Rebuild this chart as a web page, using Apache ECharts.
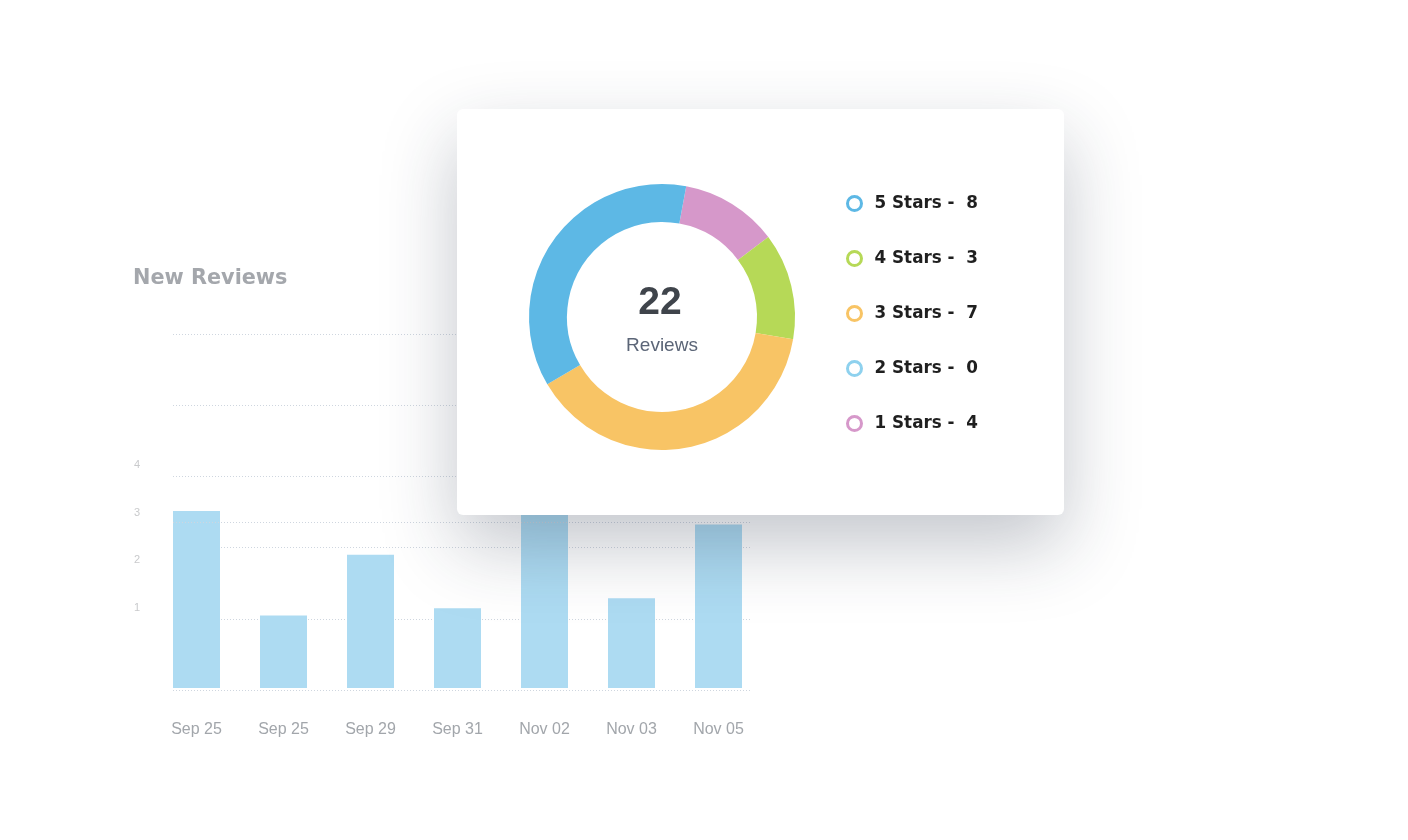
<!DOCTYPE html>
<html>
<head>
<meta charset="utf-8">
<title>New Reviews</title>
<script src="https://cdn.jsdelivr.net/npm/echarts@6/dist/echarts.min.js"></script>
<style>
  html, body { margin: 0; background: #fff; }
  #chart { width: 1408px; height: 840px; }
</style>
</head>
<body>
<div id="chart"></div>
<script>
// bar chart behind the card
const days = ['Sep 25', 'Sep 25', 'Sep 29', 'Sep 31', 'Nov 02', 'Nov 03', 'Nov 05'];
const newReviews = [3, 1.23, 2.26, 1.35, 3.4, 1.52, 2.77];
const yTickLabels = [1, 2, 3, 4];

// card: star breakdown
const starNames = ['5 Stars', '4 Stars', '3 Stars', '2 Stars', '1 Stars'];
const starCounts = [8, 3, 7, 0, 4];
// ring arcs as drawn, clockwise from the top
const ringNames = ['1 Stars', '4 Stars', '3 Stars', '2 Stars', '5 Stars'];
const ringShares = [2.6, 2.85, 8.55, 0, 8];

const starColors = {
  '5 Stars': '#5db8e5',
  '4 Stars': '#b6d957',
  '3 Stars': '#f8c465',
  '2 Stars': '#8ed1ee',
  '1 Stars': '#d698ca'
};

const total = starCounts.reduce((a, b) => a + b, 0);

const chart = echarts.init(document.getElementById('chart'));

chart.setOption({
  animation: false,
  title: {
    text: 'New Reviews',
    left: 133,
    top: 268,
    padding: 0,
    textStyle: { fontFamily: 'DejaVu Sans', fontWeight: 'bold', fontSize: 20.8, color: '#a4a7ac' }
  },
  legend: {
    data: starNames.map(n => ({
      name: n,
      itemStyle: { color: '#fff', borderColor: starColors[n], borderWidth: 3 }
    })),
    orient: 'vertical',
    left: 841,
    top: 190,
    itemWidth: 30,
    itemHeight: 14,
    itemGap: 38,
    icon: 'circle',
    selectedMode: false,
    z: 20,
    textStyle: { fontFamily: 'DejaVu Sans', fontWeight: 'bold', fontSize: 16.8, color: '#1f1f1f' },
    formatter: name => name + ' -  ' + starCounts[starNames.indexOf(name)]
  },
  grid: [
    { left: 153, right: 646, top: 334, bottom: 152 },   // bars
    { left: 173, right: 658, top: 334, bottom: 150 },   // dotted guide lines
    { left: 150, right: 1200, top: 417.5, bottom: 184.5 } // small y labels
  ],
  xAxis: [
    {
      gridIndex: 0, type: 'category', data: days,
      axisLine: { show: false }, axisTick: { show: false },
      axisLabel: { margin: 34, color: '#a2a6ab', fontSize: 16, fontFamily: 'Liberation Sans' }
    },
    { gridIndex: 1, type: 'category', data: days, show: false },
    { gridIndex: 2, type: 'category', data: days, show: false }
  ],
  yAxis: [
    { gridIndex: 0, type: 'value', min: 0, max: 6, show: false },
    {
      gridIndex: 1, type: 'value', min: 0, max: 5, interval: 1,
      axisLine: { show: false }, axisTick: { show: false }, axisLabel: { show: false },
      splitLine: { lineStyle: { type: [1, 2], color: '#cfd6df', width: 1 } }
    },
    {
      gridIndex: 2, type: 'value', min: 0, max: 5, interval: 1,
      axisLine: { show: false }, axisTick: { show: false }, splitLine: { show: false },
      axisLabel: {
        margin: 10, color: '#c9cacc', fontSize: 11, fontFamily: 'Liberation Sans',
        formatter: v => yTickLabels.includes(v) ? String(v) : ''
      }
    }
  ],
  graphic: [
    {
      type: 'rect',
      z: 10,
      shape: { x: 457, y: 109, width: 607, height: 406, r: 6 },
      style: {
        fill: '#fff',
        shadowBlur: 75,
        shadowOffsetY: 30,
        shadowColor: 'rgba(35, 45, 65, 0.27)'
      }
    },
    {
      type: 'text', z: 30, x: 660, y: 303,
      style: {
        text: String(total), align: 'center', verticalAlign: 'middle',
        fontFamily: 'Liberation Sans', fontWeight: 'bold', fontSize: 39, fill: '#3f444b'
      }
    },
    {
      type: 'text', z: 30, x: 662, y: 346,
      style: {
        text: 'Reviews', align: 'center', verticalAlign: 'middle',
        fontFamily: 'Liberation Sans', fontSize: 19, fill: '#5b6577'
      }
    }
  ],
  series: [
    {
      type: 'bar',
      xAxisIndex: 0,
      yAxisIndex: 0,
      data: newReviews,
      barWidth: 47,
      silent: true,
      itemStyle: { color: '#addbf2' }
    },
    {
      // extra dotted guide line, drawn under the bars
      type: 'line',
      xAxisIndex: 1,
      yAxisIndex: 1,
      z: 1,
      data: [],
      silent: true,
      markLine: {
        silent: true,
        symbol: 'none',
        label: { show: false },
        lineStyle: { type: [1, 2], color: '#cfd6df', width: 1 },
        data: [{ yAxis: 2.36 }]
      }
    },
    {
      type: 'pie',
      z: 20,
      center: [662, 317],
      radius: [95, 133],
      startAngle: 79.5,
      clockwise: true,
      silent: true,
      avoidLabelOverlap: false,
      label: { show: false },
      labelLine: { show: false },
      itemStyle: { borderWidth: 0 },
      data: ringNames.map((n, i) => ({ name: n, value: ringShares[i], itemStyle: { color: starColors[n] } }))
    }
  ]
});
</script>
</body>
</html>
